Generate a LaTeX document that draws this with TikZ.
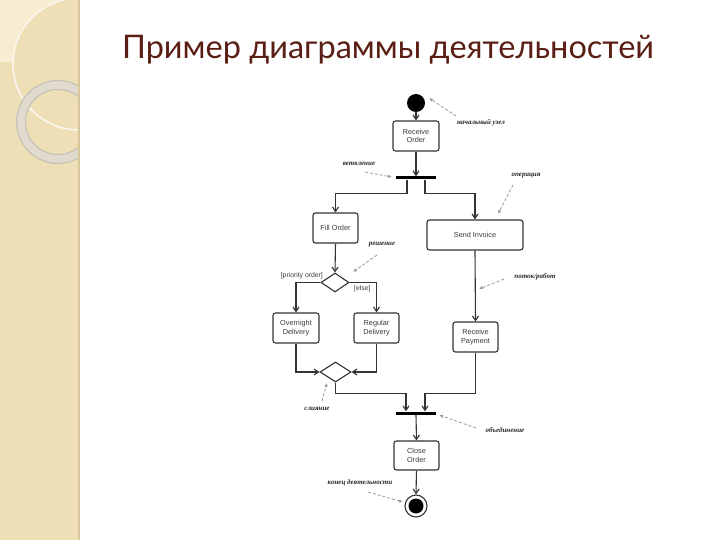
\documentclass[tikz,border=0pt]{standalone}
\usepackage{fontspec}
\setmainfont{Liberation Sans}
\newfontfamily\titlefont{Lato}
\newfontfamily\notefont{Liberation Serif}
\usetikzlibrary{arrows.meta,shapes.geometric}
\definecolor{barbg}{HTML}{EEDFB6}
\definecolor{barlight}{HTML}{F6EDD2}
\definecolor{baredge}{HTML}{D9C79C}
\definecolor{ringc}{HTML}{E0DBCE}
\definecolor{titlec}{HTML}{5A1E14}
\definecolor{linec}{HTML}{333333}
\definecolor{textc}{HTML}{3A3A3A}
\definecolor{notec}{HTML}{999999}
\tikzset{
  actbox/.style={draw=linec, line width=1.1pt, rounded corners=2.5pt, minimum width=#1, minimum height=30pt, inner sep=0pt, align=center, font=\fontsize{7.3}{8.3}\selectfont, text=textc},
  actbox/.default=45pt,
  barnode/.style={fill=black, minimum width=40pt, minimum height=3pt, inner sep=0pt},
  decision/.style={diamond, draw=linec, line width=1.1pt, inner sep=0pt, minimum width=#1, minimum height=19pt},
  decision/.default=28pt,
  flow/.style={draw=linec, line width=1.1pt, -{Straight Barb[length=4.5pt,width=6pt]}},
  note/.style={font=\notefont\itshape\bfseries\fontsize{7}{8}\selectfont, text=black!85, inner sep=1pt},
  notearrow/.style={draw=notec, line width=0.8pt, densely dashed, -{Latex[length=4pt,width=3.5pt]}},
  guard/.style={font=\fontsize{6.8}{7.5}\selectfont, text=textc, inner sep=1pt}
}
\begin{document}
\begin{tikzpicture}[x=1pt,y=-1pt]
\useasboundingbox (0,0) rectangle (720,540);
\fill[white] (0,0) rectangle (720,540);
% left decorative bar
\fill[barbg] (0,0) rectangle (79,540);
\begin{scope}
\clip (0,0) rectangle (79,540);
\fill[barlight] (0,0) rectangle (65,62);
\fill[barbg] (79,64) circle (66);
\draw[white!70!barbg, line width=1.8pt] (79,64) circle (66);
\draw[ringc!88!black, line width=10pt] (58,122) circle (37);
\draw[ringc, line width=7.5pt] (58,122) circle (37);
\end{scope}
\fill[baredge] (78,0) rectangle (80,540);
% title
\node[font=\titlefont\fontsize{32.5}{36}\selectfont, text=titlec] (title) at (388,50) {Пример диаграммы деятельностей};
% nodes
\node[circle, fill=black, minimum size=18pt, inner sep=0pt] (start) at (416,103) {};
\node[actbox=46pt] (recv) at (416,136) {Receive\\Order};
\node[barnode] (fork) at (416,178) {};
\node[actbox] (fill) at (335.5,228) {Fill Order};
\node[actbox=96pt] (send) at (475,235) {Send Invoice};
\node[decision] (dec) at (335,282.5) {};
\node[guard, anchor=south east] (g1) at (324,280) {[priority order]};
\node[guard, anchor=north west] (g2) at (353,284) {[else]};
\node[actbox=46pt] (over) at (296,328) {Overnight\\Delivery};
\node[actbox] (reg) at (376.5,328) {Regular\\Delivery};
\node[actbox] (rpay) at (475.5,337) {Receive\\Payment};
\node[decision=31pt, minimum height=20pt] (merge) at (335.5,372) {};
\node[barnode] (join) at (416,413) {};
\node[actbox, minimum height=29pt] (close) at (416.5,455.5) {Close\\Order};
\node[circle, draw=linec, line width=1.1pt, minimum size=22pt, inner sep=0pt] (end) at (416,506) {};
\fill[black] (end.center) circle (7.5);
% flows
\draw[flow] (start) -- (recv.north);
\draw[flow] (recv.south) -- (fork.north);
\draw[flow] ([xshift=-9pt]fork.south) -- ++(0,13.5) -| (fill.north);
\draw[flow] ([xshift=9pt]fork.south) -- ++(0,13.5) -| (send.north);
\draw[flow] (fill.south) -- (dec.north);
\draw[flow] (dec.west) -| (over.north);
\draw[flow] (dec.east) -| (reg.north);
\draw[flow] (send.south) -- (rpay.north);
\draw[flow] (over.south) |- (merge.west);
\draw[flow] (reg.south) |- (merge.east);
\draw[flow] (merge.south) -- ++(0,11) -| ([xshift=-10pt]join.north);
\draw[flow] (rpay.south) -- ++(0,41) -| ([xshift=9pt]join.north);
\draw[flow] (join.south) -- (close.north);
\draw[flow] (close.south) -- (end.north);
% annotations
\node[note] (n1) at (481,123) {начальный узел};
\coordinate (t1) at (429,98);
\draw[notearrow] (456,116) -- (t1);
\node[note] (n2) at (359,164) {ветвление};
\coordinate (t2) at (392,177);
\draw[notearrow] (365,172) -- (t2);
\node[note] (n3) at (526,176) {операция};
\coordinate (t3) at (498,214);
\draw[notearrow] (513,185) -- (t3);
\node[note] (n4) at (382,245) {решение};
\coordinate (t4) at (353,272);
\draw[notearrow] (377,255) -- (t4);
\node[note] (n5) at (535,277) {поток/работ};
\coordinate (t5) at (479,289);
\draw[notearrow] (504,279) -- (t5);
\node[note] (n6) at (317,409) {слияние};
\coordinate (t6) at (327,383);
\draw[notearrow] (322,401) -- (t6);
\node[note] (n7) at (505,430) {объединение};
\coordinate (t7) at (439,415);
\draw[notearrow] (476,428) -- (t7);
\node[note] (n8) at (360,483) {конец деятельности};
\coordinate (t8) at (403,502);
\draw[notearrow] (368,492) -- (t8);
\end{tikzpicture}
\end{document}
